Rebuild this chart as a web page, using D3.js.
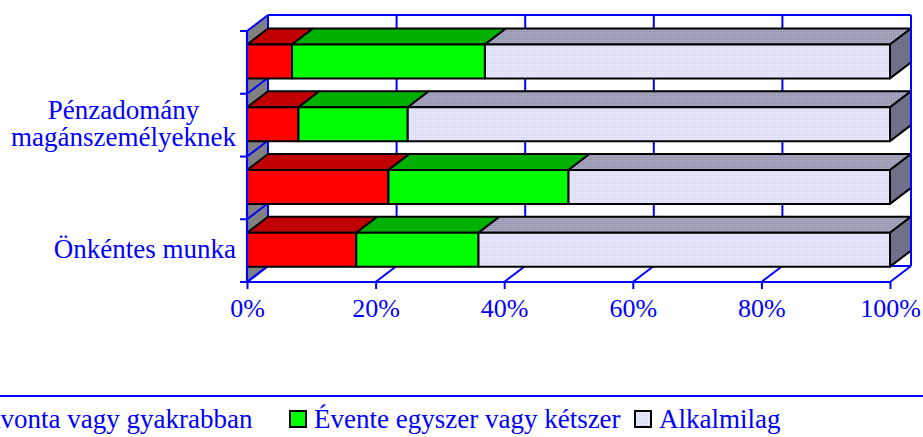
<!DOCTYPE html>
<html>
<head>
<meta charset="utf-8">
<script src="https://cdn.jsdelivr.net/npm/d3@7"></script>
<style>
  body { margin: 0; background: #fff; }
  svg { display: block; font-family: "Liberation Serif", "Times New Roman", serif; }
</style>
</head>
<body>
<div id="chart"></div>
<script>
// 3D style 100% stacked bars (Excel look)

// data, top bar first
const categories = ["", "Pénzadomány\nmagánszemélyeknek", "", "Önkéntes munka"];
const seriesNames = ["Havonta vagy gyakrabban", "Évente egyszer vagy kétszer", "Alkalmilag"];
const havonta = [7, 8, 22, 17];
const evente = [30, 17, 28, 19];
const alkalmilag = [63, 75, 50, 64];
const xTicks = [0, 20, 40, 60, 80, 100];

const width = 923, height = 437;
const blue = "#0000ff";
const depth = { dx: 21, dy: -16 };

// front face / top face / side face colours per series
const faces = [
  { front: "#ff0000", top: "#c00000", side: "#900000" },
  { front: "#00ff00", top: "#00b000", side: "#008000" },
  { front: "url(#dots)", top: "url(#dotsTop)", side: "url(#dotsSide)" }
];

const svg = d3.select("#chart").append("svg")
  .attr("width", width)
  .attr("height", height);

// dotted fill for the "Alkalmilag" series
const defs = svg.append("defs");
function dotPattern(id, base, dot) {
  const p = defs.append("pattern")
    .attr("id", id)
    .attr("width", 2).attr("height", 2)
    .attr("patternUnits", "userSpaceOnUse");
  p.append("rect").attr("width", 2).attr("height", 2).attr("fill", base);
  p.append("rect").attr("width", 1).attr("height", 1).attr("fill", dot);
}
dotPattern("dots", "#dcdcf8", "#f4f4ff");
dotPattern("dotsTop", "#9a9ab4", "#b0b0c8");
dotPattern("dotsSide", "#6c6c84", "#7c7c94");

// scales (front plane)
const x = d3.scaleLinear().domain([0, 100]).range([247, 890]);
const y = d3.scaleBand().domain(d3.range(categories.length)).range([31, 282]);
const yTop = y.range()[0], yBot = y.range()[1];
const bw = y.bandwidth();

const pts = arr => arr.map(p => p.join(",")).join(" ");

// ---- walls ----
const walls = svg.append("g");

// back wall
walls.append("polygon")
  .attr("points", pts([
    [x(0) + depth.dx, yTop + depth.dy], [x(100) + depth.dx, yTop + depth.dy],
    [x(100) + depth.dx, yBot + depth.dy], [x(0) + depth.dx, yBot + depth.dy]
  ]))
  .attr("fill", "#fff");

// left wall
walls.append("polygon")
  .attr("points", pts([
    [x(0), yTop], [x(0) + depth.dx, yTop + depth.dy],
    [x(0) + depth.dx, yBot + depth.dy], [x(0), yBot]
  ]))
  .attr("fill", "#808080");

// back wall gridlines
walls.selectAll("line.grid")
  .data(xTicks)
  .enter().append("line")
    .attr("x1", d => x(d) + depth.dx).attr("x2", d => x(d) + depth.dx)
    .attr("y1", yTop + depth.dy).attr("y2", yBot + depth.dy)
    .attr("stroke", blue).attr("stroke-width", 2);

// back wall top & bottom edge
[yTop, yBot].forEach(v => {
  walls.append("line")
    .attr("x1", x(0) + depth.dx).attr("x2", x(100) + depth.dx)
    .attr("y1", v + depth.dy).attr("y2", v + depth.dy)
    .attr("stroke", blue).attr("stroke-width", 2);
});

// left wall band lines
const bounds = d3.range(categories.length + 1).map(i => yTop + i * y.step());
walls.selectAll("line.lw")
  .data(bounds)
  .enter().append("line")
    .attr("x1", x(0)).attr("y1", d => d)
    .attr("x2", x(0) + depth.dx).attr("y2", d => d + depth.dy)
    .attr("stroke", blue).attr("stroke-width", 2);

// floor gridlines
walls.selectAll("line.fl")
  .data(xTicks)
  .enter().append("line")
    .attr("x1", d => x(d)).attr("y1", yBot)
    .attr("x2", d => x(d) + depth.dx).attr("y2", yBot + depth.dy)
    .attr("stroke", blue).attr("stroke-width", 2);

// ---- bars ----
const rows = categories.map((c, i) => ({ i, s0: havonta[i], s1: evente[i], s2: alkalmilag[i] }));
const stack = d3.stack().keys(["s0", "s1", "s2"])(rows);

const barOff = bw * 0.215, barH = bw * 0.54;
const bars = svg.append("g")
  .attr("stroke", "#000")
  .attr("stroke-width", 2)
  .attr("stroke-linejoin", "round");

stack.forEach((layer, si) => {
  layer.forEach(seg => {
    const i = seg.data.i;
    const xa = x(seg[0]), xb = x(seg[1]);
    const ya = y(i) + barOff, yb = ya + barH;
    // top face
    bars.append("polygon")
      .attr("points", pts([[xa, ya], [xb, ya], [xb + depth.dx, ya + depth.dy], [xa + depth.dx, ya + depth.dy]]))
      .attr("fill", faces[si].top);
    // front face
    bars.append("rect")
      .attr("x", xa).attr("y", ya)
      .attr("width", xb - xa).attr("height", barH)
      .attr("fill", faces[si].front);
    // right side (only the last segment shows it)
    if (si === stack.length - 1) {
      bars.append("polygon")
        .attr("points", pts([[xb, ya], [xb + depth.dx, ya + depth.dy], [xb + depth.dx, yb + depth.dy], [xb, yb]]))
        .attr("fill", faces[si].side);
    }
  });
});

// right edge of the back wall over the bars' side
svg.append("line")
  .attr("x1", x(100) + depth.dx).attr("x2", x(100) + depth.dx)
  .attr("y1", yTop + depth.dy).attr("y2", yBot + depth.dy)
  .attr("stroke", blue).attr("stroke-width", 2);

// ---- axes ----
const xAxis = svg.append("g")
  .attr("transform", `translate(0,${yBot})`)
  .call(d3.axisBottom(x).tickValues(xTicks).tickFormat(d => d + "%").tickSize(7).tickPadding(10));
xAxis.select(".domain").attr("stroke", blue).attr("stroke-width", 2.2).attr("d", `M${x(0)},0H${x(100)}`);
xAxis.selectAll(".tick line").attr("stroke", blue).attr("stroke-width", 2);
xAxis.selectAll(".tick text")
  .attr("fill", blue)
  .style("font-size", "26px")
  .style("font-family", "'Liberation Serif', 'Times New Roman', serif");

// category axis
svg.append("line")
  .attr("x1", x(0)).attr("x2", x(0))
  .attr("y1", yTop).attr("y2", yBot + 1)
  .attr("stroke", blue).attr("stroke-width", 2.2);
svg.selectAll("line.ytick")
  .data(bounds)
  .enter().append("line")
    .attr("x1", x(0) - 7).attr("x2", x(0))
    .attr("y1", d => d).attr("y2", d => d)
    .attr("stroke", blue).attr("stroke-width", 2);

// category labels (every other one, as in the original)
const labelRight = 236, lineH = 27;
categories.forEach((c, i) => {
  if (!c) return;
  const lines = c.split("\n");
  const t = svg.append("text")
    .attr("fill", blue)
    .style("font-size", "27px")
    .attr("text-anchor", "middle");
  lines.forEach((ln, k) => {
    t.append("tspan")
      .attr("y", y(i) + bw / 2 + (k - (lines.length - 1) / 2) * lineH + 7)
      .text(ln);
  });
  let maxW = 0;
  t.selectAll("tspan").each(function () { maxW = Math.max(maxW, this.getComputedTextLength()); });
  t.selectAll("tspan").attr("x", labelRight - maxW / 2);
});

// ---- legend ----
svg.append("line")
  .attr("x1", 0).attr("x2", width)
  .attr("y1", 396).attr("y2", 396)
  .attr("stroke", blue).attr("stroke-width", 2);

// legend runs off the left edge, like the original
const legendStart = -55, legendStep = 345;
const legend = svg.append("g");
seriesNames.forEach((name, si) => {
  const lx = legendStart + si * legendStep;
  legend.append("rect")
    .attr("x", lx).attr("y", 411)
    .attr("width", 16).attr("height", 16)
    .attr("fill", faces[si].front)
    .attr("stroke", "#000").attr("stroke-width", 2);
  legend.append("text")
    .attr("x", lx + 24).attr("y", 428)
    .attr("fill", blue)
    .style("font-size", "27px")
    .text(name);
});
</script>
</body>
</html>
